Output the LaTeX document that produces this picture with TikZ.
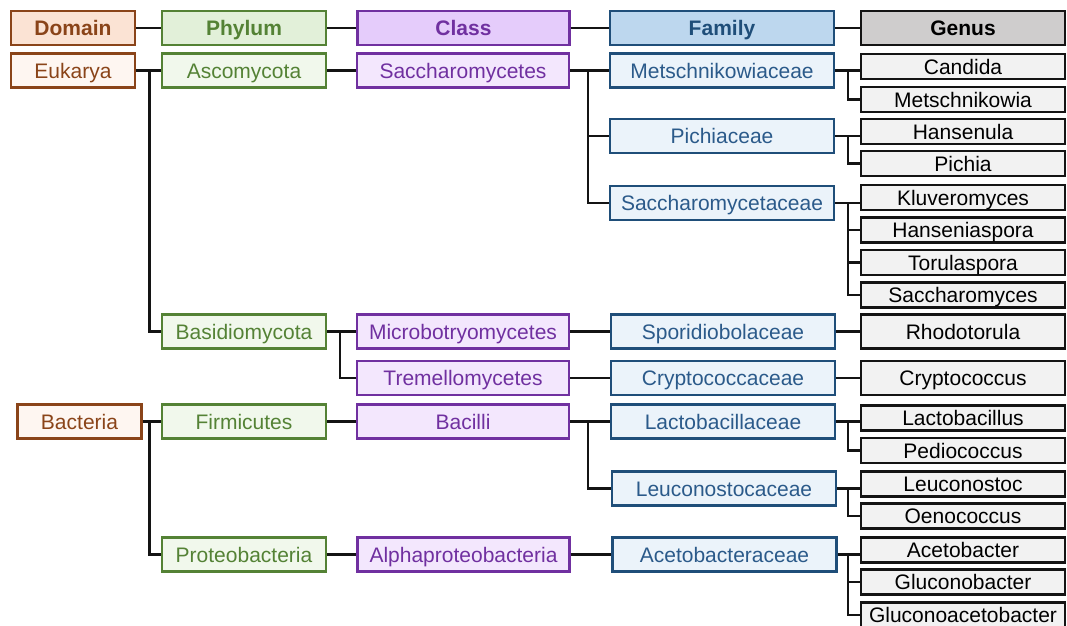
\documentclass[tikz,border=0pt]{standalone}
\usepackage{fontspec}
\setmainfont{Liberation Sans}
\definecolor{domc}{HTML}{8A4419}
\definecolor{domhf}{HTML}{FBE3D4}
\definecolor{domf}{HTML}{FEF6F1}
\definecolor{phyc}{HTML}{548235}
\definecolor{phyhf}{HTML}{E2F0D9}
\definecolor{phyf}{HTML}{F1F8EC}
\definecolor{clsc}{HTML}{7030A0}
\definecolor{clshf}{HTML}{E5CCFB}
\definecolor{clsf}{HTML}{F3E7FD}
\definecolor{famc}{HTML}{1F4E79}
\definecolor{famt}{HTML}{2B5A8A}
\definecolor{famhf}{HTML}{BDD7EE}
\definecolor{famf}{HTML}{EBF3FA}
\definecolor{genc}{HTML}{141414}
\definecolor{genhf}{HTML}{CFCDCD}
\definecolor{genf}{HTML}{F2F2F2}
\begin{document}
\begin{tikzpicture}[x=1pt,y=-1pt,
  box/.style={draw, line width=2.2pt, inner sep=0pt, minimum height=34pt,
    text height=15.5pt, text depth=0.5pt,
    font=\fontsize{21}{24}\selectfont},
  hdr/.style={font=\fontsize{21}{24}\selectfont\bfseries},
  dom/.style={box, draw=domc, text=domc, fill=domf, minimum width=124pt},
  phy/.style={box, draw=phyc, text=phyc, fill=phyf, minimum width=164pt},
  cls/.style={box, draw=clsc, text=clsc, fill=clsf, minimum width=212pt},
  fam/.style={box, draw=famc, text=famt, fill=famf, minimum width=224pt},
  gen/.style={box, draw=genc, text=black, fill=genf, minimum width=204pt, minimum height=25pt},
  genl/.style={gen, minimum height=34pt},
  conn/.style={draw=genc, line width=2.2pt}]
\fill[white] (0,0) rectangle (1067,625);
\useasboundingbox (0,0) rectangle (1067,625);
% junction coordinates
\coordinate (jd) at (149.5,0);
\coordinate (jp) at (340,0);
\coordinate (jc) at (588,0);
\coordinate (jf) at (848,0);
% headers
\node[dom, hdr, fill=domhf] (dH) at (73,28) {Domain};
\node[phy, hdr, fill=phyhf] (pH) at (244,28) {Phylum};
\node[cls, hdr, fill=clshf] (cH) at (463.5,28) {Class};
\node[fam, hdr, fill=famhf, text=famc] (fH) at (722,28) {Family};
\node[genl, hdr, fill=genhf] (gH) at (963,28) {Genus};
% domain
\node[dom] (euk) at (73,70.5) {Eukarya};
\node[dom] (bac) at (79.5,421.5) {Bacteria};
% phylum
\node[phy] (asc) at (244,70.5) {Ascomycota};
\node[phy] (bas) at (244,331.5) {Basidiomycota};
\node[phy] (fir) at (244,421.5) {Firmicutes};
\node[phy] (pro) at (244,554.5) {Proteobacteria};
% class
\node[cls] (sac) at (463,70.5) {Saccharomycetes};
\node[cls] (mic) at (463,331.5) {Microbotryomycetes};
\node[cls] (tre) at (463,378) {Tremellomycetes};
\node[cls] (bcl) at (463,421.5) {Bacilli};
\node[cls] (alp) at (463.5,554.5) {Alphaproteobacteria};
% family
\node[fam] (met) at (722,70.5) {Metschnikowiaceae};
\node[fam] (pic) at (722,136) {Pichiaceae};
\node[fam] (sct) at (722,203) {Saccharomycetaceae};
\node[fam] (spo) at (723,331.5) {Sporidiobolaceae};
\node[fam] (cry) at (723,378) {Cryptococcaceae};
\node[fam] (lac) at (723,421.5) {Lactobacillaceae};
\node[fam] (leu) at (724,488.5) {Leuconostocaceae};
\node[fam] (ace) at (724.5,554.5) {Acetobacteraceae};
% genus
\node[gen] (g1) at (963,66.5) {Candida};
\node[gen] (g2) at (963,99.5) {Metschnikowia};
\node[gen] (g3) at (963,131.5) {Hansenula};
\node[gen] (g4) at (963,163.5) {Pichia};
\node[gen] (g5) at (963,197.5) {Kluveromyces};
\node[gen] (g6) at (963,230) {Hanseniaspora};
\node[gen] (g7) at (963,262.5) {Torulaspora};
\node[gen] (g8) at (963,295) {Saccharomyces};
\node[genl] (g9) at (963,331.5) {Rhodotorula};
\node[genl] (g10) at (963,378) {Cryptococcus};
\node[gen] (g11) at (963,418) {Lactobacillus};
\node[gen] (g12) at (963,450.5) {Pediococcus};
\node[gen] (g13) at (963,484) {Leuconostoc};
\node[gen] (g14) at (963,516) {Oenococcus};
\node[gen] (g15) at (963,550) {Acetobacter};
\node[gen] (g16) at (963,582) {Gluconobacter};
\node[gen] (g17) at (963,615) {Gluconoacetobacter};
% header connectors
\draw[conn] (dH) -- (pH);
\draw[conn] (pH) -- (cH);
\draw[conn] (cH) -- (fH);
\draw[conn] (fH) -- (gH);
% domain -> phylum
\draw[conn] (euk.east) -- (euk.east -| asc.west);
\draw[conn] (euk.east -| jd) |- (bas.west);
\draw[conn] (bac.east) -- (bac.east -| fir.west);
\draw[conn] (bac.east -| jd) |- (pro.west);
% phylum -> class
\draw[conn] (asc.east) -- (asc.east -| sac.west);
\draw[conn] (bas.east) -- (bas.east -| mic.west);
\draw[conn] (bas.east -| jp) |- (tre.west);
\draw[conn] (fir.east) -- (fir.east -| bcl.west);
\draw[conn] (pro.east) -- (pro.east -| alp.west);
% class -> family
\draw[conn] (sac.east) -- (sac.east -| met.west);
\draw[conn] (sac.east -| jc) |- (pic.west);
\draw[conn] (sac.east -| jc) |- (sct.west);
\draw[conn] (mic.east) -- (mic.east -| spo.west);
\draw[conn] (tre.east) -- (tre.east -| cry.west);
\draw[conn] (bcl.east) -- (bcl.east -| lac.west);
\draw[conn] (bcl.east -| jc) |- (leu.west);
\draw[conn] (alp.east) -- (alp.east -| ace.west);
% family -> genus
\draw[conn] (met.east) -- (met.east -| g1.west);
\draw[conn] (met.east -| jf) |- (g2.west);
\draw[conn] (pic.east) -- (pic.east -| g3.west);
\draw[conn] (pic.east -| jf) |- (g4.west);
\draw[conn] (sct.east) -- (sct.east -| g5.west);
\draw[conn] (sct.east -| jf) |- (g6.west);
\draw[conn] (sct.east -| jf) |- (g7.west);
\draw[conn] (sct.east -| jf) |- (g8.west);
\draw[conn] (spo.east) -- (spo.east -| g9.west);
\draw[conn] (cry.east) -- (cry.east -| g10.west);
\draw[conn] (lac.east) -- (lac.east -| g11.west);
\draw[conn] (lac.east -| jf) |- (g12.west);
\draw[conn] (leu.east) -- (leu.east -| g13.west);
\draw[conn] (leu.east -| jf) |- (g14.west);
\draw[conn] (ace.east) -- (ace.east -| g15.west);
\draw[conn] (ace.east -| jf) |- (g16.west);
\draw[conn] (ace.east -| jf) |- (g17.west);
\end{tikzpicture}
\end{document}
